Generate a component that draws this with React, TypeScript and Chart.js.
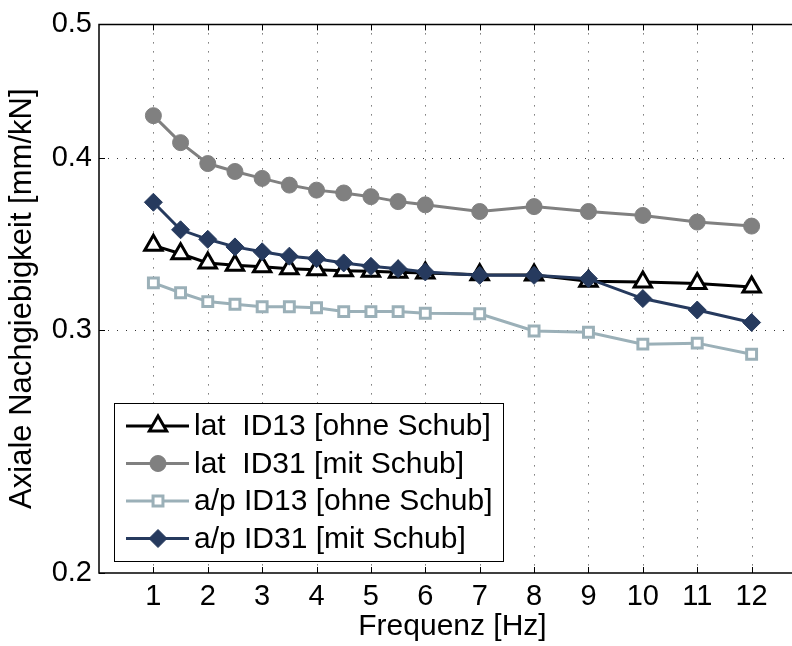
import React, { useEffect, useRef } from "react";
import { Chart, registerables } from "chart.js";
import { drawPoint } from "chart.js/helpers";

Chart.register(...registerables);

// ---------- data ----------
const freqHz = [1, 1.5, 2, 2.5, 3, 3.5, 4, 4.5, 5, 5.5, 6, 7, 8, 9, 10, 11, 12];
const latID13 = [0.3457, 0.3409, 0.3357, 0.3344, 0.3335, 0.3325, 0.3319, 0.3314, 0.331, 0.3305, 0.3301, 0.3292, 0.329, 0.3256, 0.3252, 0.3243, 0.3225];
const latID31 = [0.4293, 0.4104, 0.3963, 0.3911, 0.3866, 0.3823, 0.3791, 0.3773, 0.375, 0.3719, 0.3699, 0.3658, 0.3688, 0.3658, 0.3634, 0.3594, 0.357];
const apID13 = [0.3247, 0.3194, 0.3147, 0.3133, 0.312, 0.312, 0.3115, 0.3095, 0.3095, 0.3095, 0.3086, 0.3084, 0.2996, 0.299, 0.2931, 0.2936, 0.2882];
const apID31 = [0.3715, 0.3548, 0.3492, 0.3448, 0.342, 0.3395, 0.3381, 0.3357, 0.3338, 0.3325, 0.3307, 0.3288, 0.3288, 0.327, 0.3163, 0.3103, 0.3039];
const seriesLabels = [
  "lat  ID13 [ohne Schub]",
  "lat  ID31 [mit Schub]",
  "a/p ID13 [ohne Schub]",
  "a/p ID31 [mit Schub]",
];
const xTickValues = [1, 2, 3, 4, 5, 6, 7, 8, 9, 10, 11, 12];
const yTickValues = [0.2, 0.3, 0.4, 0.5];
const xTitle = "Frequenz [Hz]";
const yTitle = "Axiale Nachgiebigkeit [mm/kN]";

const FONT = '"Liberation Sans", Arial, Helvetica, sans-serif';

const toPoints = (ys: number[]) => ys.map((y, i) => ({ x: freqHz[i], y }));

const matlabFrame = {
  id: "matlabFrame",
  beforeDatasetsDraw(chart: any) {
    const { ctx, chartArea: a, scales } = chart;
    const x = scales.x;
    const y = scales.y;
    ctx.save();
    // dotted grid
    ctx.strokeStyle = "#333";
    ctx.lineWidth = 1;
    ctx.setLineDash([1, 8]);
    xTickValues.forEach((v) => {
      const px = Math.round(x.getPixelForValue(v)) + 0.5;
      ctx.beginPath();
      ctx.moveTo(px, a.top);
      ctx.lineTo(px, a.bottom);
      ctx.stroke();
    });
    yTickValues.forEach((v) => {
      if (v === y.min || v === y.max) return;
      const py = Math.round(y.getPixelForValue(v)) + 0.5;
      ctx.beginPath();
      ctx.moveTo(a.left, py);
      ctx.lineTo(a.right, py);
      ctx.stroke();
    });
    ctx.setLineDash([]);
    // inward tick marks
    ctx.strokeStyle = "#000";
    ctx.lineWidth = 1;
    const tl = 6;
    xTickValues.forEach((v) => {
      const px = Math.round(x.getPixelForValue(v)) + 0.5;
      ctx.beginPath();
      ctx.moveTo(px, a.bottom);
      ctx.lineTo(px, a.bottom - tl);
      ctx.moveTo(px, a.top);
      ctx.lineTo(px, a.top + tl);
      ctx.stroke();
    });
    yTickValues.forEach((v) => {
      const py = Math.round(y.getPixelForValue(v)) + 0.5;
      ctx.beginPath();
      ctx.moveTo(a.left, py);
      ctx.lineTo(a.left + tl, py);
      ctx.moveTo(a.right, py);
      ctx.lineTo(a.right - tl, py);
      ctx.stroke();
    });
    ctx.restore();
  },
  afterDatasetsDraw(chart: any) {
    const { ctx, chartArea: a } = chart;
    ctx.save();
    // axes box
    ctx.strokeStyle = "#000";
    ctx.lineWidth = 1.5;
    ctx.beginPath();
    ctx.rect(a.left, a.top, a.right - a.left, a.bottom - a.top);
    ctx.stroke();

    // legend
    const lx = 114, ly = 403, lw = 389, lh = 158;
    ctx.fillStyle = "#fff";
    ctx.fillRect(lx, ly, lw, lh);
    ctx.strokeStyle = "#000";
    ctx.lineWidth = 1;
    ctx.strokeRect(lx + 0.5, ly + 0.5, lw, lh);
    chart.data.datasets.forEach((ds: any, i: number) => {
      const ry = ly + 23 + i * 37.5;
      ctx.strokeStyle = ds.borderColor;
      ctx.lineWidth = ds.borderWidth;
      ctx.beginPath();
      ctx.moveTo(126, ry);
      ctx.lineTo(189, ry);
      ctx.stroke();
      ctx.fillStyle = ds.pointBackgroundColor;
      ctx.strokeStyle = ds.pointBorderColor;
      ctx.lineWidth = ds.pointBorderWidth;
      drawPoint(ctx, { pointStyle: ds.pointStyle, radius: ds.pointRadius, rotation: 0, borderWidth: ds.pointBorderWidth }, 158, ry);
      ctx.fillStyle = "#000";
      ctx.font = `30px ${FONT}`;
      ctx.textBaseline = "middle";
      ctx.textAlign = "left";
      ctx.fillText(ds.label, 194, ry + 1);
    });
    ctx.restore();
  },
};

export default function App() {
  const ref = useRef<HTMLCanvasElement | null>(null);
  useEffect(() => {
    if (!ref.current) return;
    Chart.defaults.font.family = FONT;
    Chart.defaults.color = "#000";
    const chart = new Chart(ref.current, {
      type: "line",
      data: {
        datasets: [
          {
            label: seriesLabels[0],
            data: toPoints(latID13),
            borderColor: "#000000",
            borderWidth: 3,
            pointStyle: "triangle",
            pointRadius: 10,
            pointBackgroundColor: "#ffffff",
            pointBorderColor: "#000000",
            pointBorderWidth: 3,
            order: 3,
          },
          {
            label: seriesLabels[1],
            data: toPoints(latID31),
            borderColor: "#808080",
            borderWidth: 3,
            pointStyle: "circle",
            pointRadius: 8,
            pointBackgroundColor: "#808080",
            pointBorderColor: "#808080",
            pointBorderWidth: 1,
            order: 2,
          },
          {
            label: seriesLabels[2],
            data: toPoints(apID13),
            borderColor: "#9bb0b8",
            borderWidth: 3,
            pointStyle: "rect",
            pointRadius: 7,
            pointBackgroundColor: "#ffffff",
            pointBorderColor: "#9bb0b8",
            pointBorderWidth: 3,
            order: 1,
          },
          {
            label: seriesLabels[3],
            data: toPoints(apID31),
            borderColor: "#263a5e",
            borderWidth: 3,
            pointStyle: "rectRot",
            pointRadius: 9,
            pointBackgroundColor: "#263a5e",
            pointBorderColor: "#263a5e",
            pointBorderWidth: 1,
            order: 0,
          },
        ],
      } as any,
      options: {
        animation: false,
        responsive: false,
        devicePixelRatio: 1,
        events: [],
        layout: { padding: { left: 0, top: 21, right: 14, bottom: 0 } },
        plugins: { legend: { display: false }, tooltip: { enabled: false } },
        elements: { line: { tension: 0 } },
        scales: {
          x: {
            type: "linear",
            min: 0,
            max: 13,
            afterBuildTicks: (s: any) => {
              s.ticks = xTickValues.map((v) => ({ value: v }));
            },
            afterFit: (s: any) => {
              s.height = 73;
            },
            grid: { display: false, drawTicks: false },
            border: { display: false },
            ticks: {
              autoSkip: false,
              maxRotation: 0,
              padding: 7,
              color: "#000",
              font: { size: 29 },
              callback: (v: any) => String(v),
            },
            title: {
              display: true,
              text: xTitle,
              color: "#000",
              font: { size: 30 },
              padding: { top: 0, bottom: 1 },
            },
          },
          y: {
            type: "logarithmic",
            min: 0.2,
            max: 0.5,
            afterBuildTicks: (s: any) => {
              s.ticks = yTickValues.map((v) => ({ value: v }));
            },
            afterFit: (s: any) => {
              s.width = 99;
            },
            grid: { display: false, drawTicks: false },
            border: { display: false },
            ticks: {
              autoSkip: false,
              padding: 7,
              color: "#000",
              font: { size: 29 },
              callback: (v: any) => Number(v).toFixed(1),
            },
            title: {
              display: true,
              text: yTitle,
              color: "#000",
              font: { size: 31 },
              padding: { top: 4, bottom: 0 },
            },
          },
        },
      } as any,
      plugins: [matlabFrame],
    });
    return () => chart.destroy();
  }, []);

  return (
    <div style={{ position: "absolute", left: 0, top: 0, width: 792, height: 646, overflow: "hidden", background: "#fff" }}>
      <canvas ref={ref} width={820} height={646} style={{ display: "block", width: 820, height: 646 }} />
    </div>
  );
}
